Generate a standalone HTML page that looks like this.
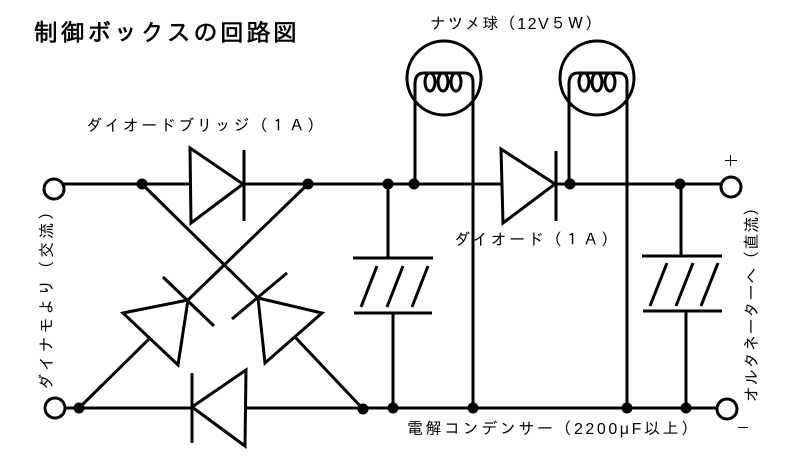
<!DOCTYPE html>
<html><head><meta charset="utf-8"><style>
html,body{margin:0;padding:0;background:#fff;}
svg{display:block;}
text{font-family:"Liberation Sans","IPAGothic","Noto Sans CJK JP",sans-serif;fill:#000;}
</style></head><body>
<svg width="790" height="464" viewBox="0 0 790 464" xmlns="http://www.w3.org/2000/svg">
<rect width="790" height="464" fill="#fff"/>
<text x="34" y="41" font-size="24" textLength="263" lengthAdjust="spacing" stroke="#000" stroke-width="0.6">制御ボックスの回路図</text>
<text x="86" y="131" font-size="16" textLength="237" lengthAdjust="spacing">ダイオードブリッジ（１Ａ）</text>
<text x="430" y="29" font-size="16" textLength="171" lengthAdjust="spacing">ナツメ球（12V５Ｗ）</text>
<text x="454" y="245" font-size="16" textLength="163" lengthAdjust="spacing">ダイオード（１Ａ）</text>
<text x="407" y="434" font-size="16" textLength="290" lengthAdjust="spacing">電解コンデンサー（2200μF以上）</text>
<text transform="translate(52,390) rotate(-90)" x="0" y="0" font-size="16" textLength="186" lengthAdjust="spacing">ダイナモより（交流）</text>
<text transform="translate(757,402) rotate(-90)" x="0" y="0" font-size="16" textLength="202" lengthAdjust="spacing">オルタネーターへ（直流）</text>

<g stroke="#000" stroke-width="1" fill="none">
<line x1="725" y1="160.5" x2="737" y2="160.5"/>
<line x1="730.5" y1="155" x2="730.5" y2="166"/>
<line x1="738" y1="427.5" x2="748" y2="427.5"/>
</g>

<g stroke="#000" stroke-width="3" fill="none" stroke-linecap="butt">
<!-- top wire -->
<line x1="63" y1="184" x2="190" y2="184"/>
<line x1="244" y1="184" x2="501" y2="184"/>
<line x1="556" y1="184" x2="721" y2="184"/>
<!-- bottom wire -->
<line x1="65" y1="408" x2="192" y2="408"/>
<line x1="246" y1="408" x2="717" y2="408"/>
<!-- terminals -->
<circle cx="54" cy="189" r="10"/>
<circle cx="731" cy="187" r="10"/>
<circle cx="55" cy="408" r="10"/>
<circle cx="727" cy="409" r="10"/>
<!-- top diode 1 -->
<polygon points="190,148 191,223 243,184"/>
<line x1="244" y1="150" x2="244" y2="221"/>
<!-- top diode 2 -->
<polygon points="501,149 503,223 555,184"/>
<line x1="556" y1="151" x2="556" y2="221"/>
<!-- bottom diode -->
<polygon points="192,407 246,370 245,446"/>
<line x1="192" y1="373" x2="192" y2="443"/>
<!-- bridge X -->
<line x1="142" y1="184" x2="258" y2="298"/>
<line x1="308" y1="184" x2="188" y2="300"/>
<!-- left upper diode -->
<polygon points="123,313 188,300 178,365"/>
<line x1="163" y1="277" x2="214" y2="326"/>
<line x1="79" y1="408" x2="149" y2="339"/>
<!-- right upper diode -->
<polygon points="258,298 322,313 265,363"/>
<line x1="232" y1="319" x2="287" y2="273"/>
<line x1="363" y1="409" x2="295" y2="337"/>
<!-- left capacitor -->
<line x1="388" y1="184" x2="388" y2="258"/>
<line x1="353" y1="258" x2="433" y2="258"/>
<line x1="354" y1="313" x2="432" y2="313"/>
<line x1="393" y1="313" x2="393" y2="408"/>
<line x1="377" y1="266" x2="361" y2="307"/>
<line x1="403" y1="266" x2="387" y2="307"/>
<line x1="428" y1="266" x2="412" y2="307"/>
<!-- right capacitor -->
<line x1="681" y1="184" x2="681" y2="256"/>
<line x1="642" y1="256" x2="722" y2="256"/>
<line x1="643" y1="311" x2="722" y2="311"/>
<line x1="686" y1="311" x2="686" y2="408"/>
<line x1="667" y1="263" x2="650" y2="306"/>
<line x1="693" y1="263" x2="676" y2="306"/>
<line x1="718" y1="263" x2="701" y2="306"/>
<!-- bulb 1 -->
<circle cx="444" cy="78" r="37"/>
<path d="M415,184 L415,84 Q415,73 424,73 L464,73 Q473,73 473,82 L473,408"/>
<ellipse cx="430" cy="82" rx="5" ry="9"/>
<ellipse cx="443" cy="82" rx="5" ry="9"/>
<ellipse cx="456" cy="82" rx="5" ry="9"/>
<!-- bulb 2 -->
<circle cx="597" cy="78" r="37"/>
<path d="M569,184 L569,84 Q569,73 578,73 L618,73 Q627,73 627,82 L627,408"/>
<ellipse cx="584" cy="82" rx="5" ry="9"/>
<ellipse cx="597" cy="82" rx="5" ry="9"/>
<ellipse cx="610" cy="82" rx="5" ry="9"/>
</g>

<g fill="#000">
<circle cx="142" cy="184" r="5.5"/>
<circle cx="308" cy="184" r="5.5"/>
<circle cx="388" cy="184" r="5.5"/>
<circle cx="414" cy="184" r="5.5"/>
<circle cx="570" cy="184" r="5.5"/>
<circle cx="680" cy="184" r="5.5"/>
<circle cx="79" cy="408" r="5.5"/>
<circle cx="363" cy="409" r="5.5"/>
<circle cx="393" cy="408" r="5.5"/>
<circle cx="473" cy="408" r="5.5"/>
<circle cx="627" cy="408" r="5.5"/>
<circle cx="686" cy="408" r="5.5"/>
</g>
</svg>
</body></html>
